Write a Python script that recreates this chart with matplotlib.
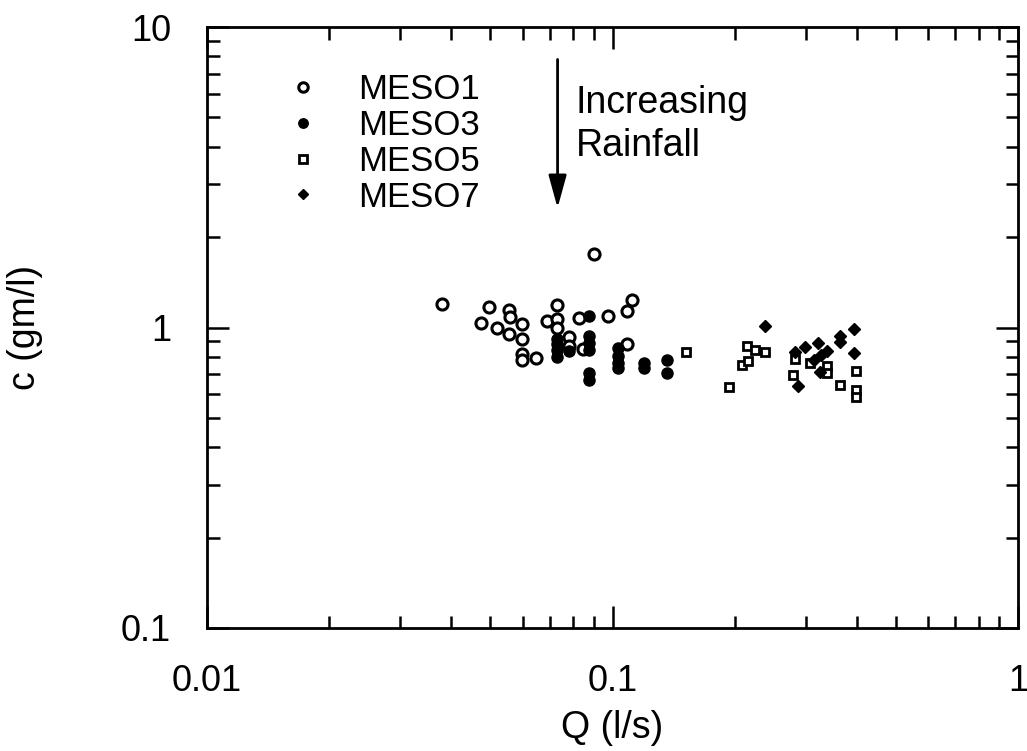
import matplotlib
matplotlib.use("Agg")
import matplotlib.pyplot as plt
from matplotlib.ticker import LogLocator, NullFormatter, FixedLocator, FixedFormatter

plt.rcParams["font.family"] = ["Liberation Sans", "DejaVu Sans"]

# MESO1 (open circles)
meso1_q = [0.0380, 0.0497, 0.0555, 0.0560, 0.0474, 0.0518, 0.0599, 0.0555, 0.0599,
           0.0599, 0.0599, 0.0646, 0.0731, 0.0690, 0.0731, 0.0731, 0.0780, 0.0780,
           0.0826, 0.0899, 0.0976, 0.1083, 0.1118, 0.1083, 0.0847]
meso1_c = [1.199, 1.168, 1.148, 1.088, 1.033, 1.000, 1.029, 0.953, 0.914,
           0.818, 0.781, 0.793, 1.184, 1.055, 1.066, 0.995, 0.933, 0.865,
           1.072, 1.759, 1.094, 1.131, 1.230, 0.883, 0.845]

# MESO3 (filled circles)
meso3_q = [0.0731, 0.0731, 0.0731, 0.0731, 0.0780, 0.0874, 0.0874, 0.0874, 0.0874,
           0.0874, 0.0874, 0.1031, 0.1031, 0.1031, 0.1031, 0.1194, 0.1194, 0.1364,
           0.1364]
meso3_c = [0.917, 0.883, 0.839, 0.797, 0.835, 1.090, 0.935, 0.890, 0.839,
           0.705, 0.670, 0.856, 0.801, 0.761, 0.734, 0.763, 0.734, 0.779,
           0.705]

# MESO5 (open squares)
meso5_q = [0.1522, 0.1943, 0.2089, 0.2157, 0.2149, 0.2252, 0.2384, 0.2790, 0.2827,
           0.3066, 0.3384, 0.3384, 0.3650, 0.3997, 0.3975, 0.3975]
meso5_c = [0.832, 0.633, 0.751, 0.772, 0.871, 0.839, 0.832, 0.696, 0.787,
           0.761, 0.747, 0.705, 0.646, 0.719, 0.620, 0.589]

# MESO7 (filled diamonds)
meso7_q = [0.2375, 0.2827, 0.2864, 0.2976, 0.3215, 0.3384, 0.3136, 0.3276, 0.3258,
           0.3635, 0.3635, 0.3936, 0.3950]
meso7_c = [1.010, 0.828, 0.640, 0.860, 0.889, 0.834, 0.777, 0.807, 0.710,
           0.940, 0.894, 0.985, 0.821]

fig = plt.figure(figsize=(10.27, 7.51), dpi=100)
ax = fig.add_axes([0.2016, 0.1638, 0.7896, 0.8002])

ax.plot(meso1_q, meso1_c, "o", ms=8, mfc="white", mec="black", mew=2.2, ls="none", label="MESO1")
ax.plot(meso3_q, meso3_c, "o", ms=8, mfc="black", mec="black", ls="none", label="MESO3")
ax.plot(meso5_q, meso5_c, "s", ms=6, mfc="white", mec="black", mew=2.0, ls="none", label="MESO5")
ax.plot(meso7_q, meso7_c, "D", ms=6, mfc="black", mec="black", ls="none", label="MESO7")

ax.set_xscale("log")
ax.set_yscale("log")
ax.set_xlim(0.01, 1)
ax.set_ylim(0.1, 10)

ax.xaxis.set_major_locator(FixedLocator([0.01, 0.1, 1]))
ax.xaxis.set_major_formatter(FixedFormatter(["0.01", "0.1", "1"]))
ax.yaxis.set_major_locator(FixedLocator([0.1, 1, 10]))
ax.yaxis.set_major_formatter(FixedFormatter(["0.1", "1", "10"]))
ax.xaxis.set_minor_locator(LogLocator(base=10, subs=range(2, 10)))
ax.yaxis.set_minor_locator(LogLocator(base=10, subs=range(2, 10)))
ax.xaxis.set_minor_formatter(NullFormatter())
ax.yaxis.set_minor_formatter(NullFormatter())

ax.tick_params(which="both", direction="in", top=True, right=True, width=1.8)
ax.tick_params(which="major", length=16, labelsize=26, pad=26)
ax.tick_params(which="minor", length=9)
for s in ax.spines.values():
    s.set_linewidth(2)

ax.set_xlabel("Q (l/s)", fontsize=27, labelpad=8)
ax.set_ylabel("c (gm/l)", fontsize=27, labelpad=56)

leg = ax.legend(loc="upper left", bbox_to_anchor=(0.058, 0.975), frameon=False,
                fontsize=25, handlelength=1.0, handletextpad=1.1, labelspacing=0.08,
                markerscale=0.85)

ax.annotate("", xy=(0.0732, 2.5), xytext=(0.0732, 7.8),
            arrowprops=dict(arrowstyle="-|>,head_length=2.0,head_width=0.55",
                            color="black", lw=2, shrinkA=0, shrinkB=0))
ax.text(0.0811, 5.57, "Increasing", fontsize=27, va="center", ha="left")
ax.text(0.0811, 4.03, "Rainfall", fontsize=27, va="center", ha="left")

fig.savefig("out.png", dpi=100)
